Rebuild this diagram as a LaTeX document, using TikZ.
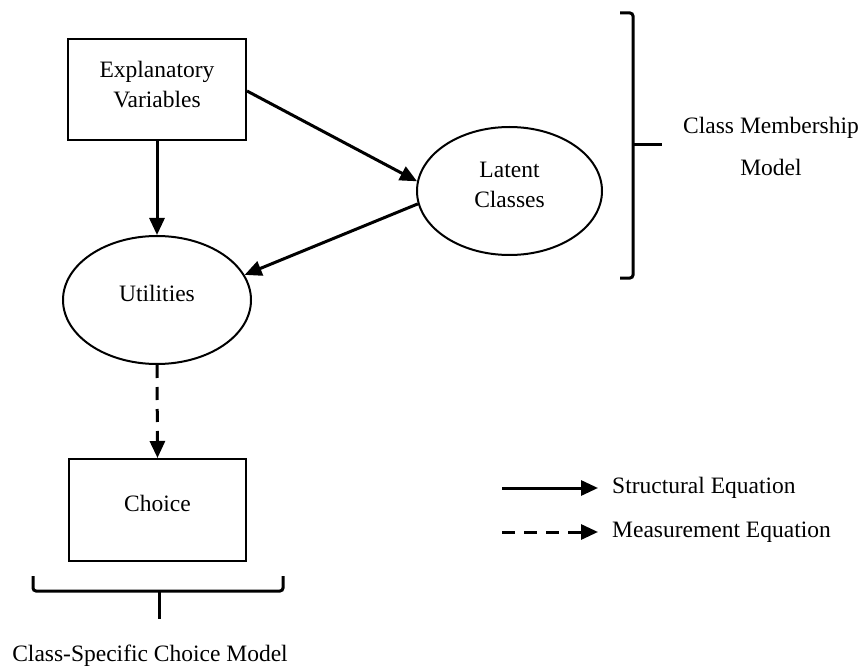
\documentclass[tikz,border=0pt]{standalone}
\usepackage{fontspec}
\setmainfont{Liberation Serif}
\usetikzlibrary{arrows.meta,shapes.geometric}
\tikzset{
  boxnode/.style={draw, line width=2pt, rectangle, inner sep=0pt, align=center},
  ellnode/.style={draw, line width=2pt, ellipse, inner sep=0pt, align=center},
  txt/.style={inner sep=0pt, align=center},
  conn/.style={line width=3pt, -{Triangle[length=17pt,width=15pt]}},
  dconn/.style={conn, dash pattern=on 13pt off 9pt},
  bracket/.style={line width=3pt, rounded corners=3pt}
}
\begin{document}
\begin{tikzpicture}[x=1pt,y=-1pt,font=\fontsize{23.5}{30}\selectfont]
\useasboundingbox (0,0) rectangle (865,671);
% nodes
\node[boxnode, minimum width=178pt, minimum height=101pt, text depth=10pt] (ev) at (157,89.5) {Explanatory\\Variables};
\node[ellnode, minimum width=185pt, minimum height=128pt, text depth=12pt] (lc) at (509.5,191) {Latent\\Classes};
\node[ellnode, minimum width=188pt, minimum height=128pt, text depth=14pt] (ut) at (157,300) {Utilities};
\node[boxnode, minimum width=177pt, minimum height=102pt, text depth=14pt] (ch) at (157.5,510) {Choice};
% connectors
\draw[conn] (ev.east) ++(0,1.5) coordinate (evr) (evr) -- (lc.174);
\draw[conn] (ev.south) -- (ut.north);
\draw[conn] (lc.188) -- (ut.16);
\draw[dconn] (ut.south) -- (ch.north);
% right bracket
\coordinate (rbt) at (620,13);
\coordinate (rbb) at (620,278);
\coordinate (rbm) at (633,145);
\coordinate (rbtip) at (662,145);
\draw[bracket] (rbt) -- (633,13) -- (633,278) -- (rbb);
\draw[line width=3pt] (rbm) -- (rbtip);
\node[txt] (cmm) at (771,146) {Class Membership\\[12pt]Model};
% bottom bracket
\coordinate (bbl) at (33,576);
\coordinate (bbr) at (283,576);
\coordinate (bbm) at (159,591);
\coordinate (bbtip) at (159,619);
\draw[bracket] (bbl) -- (33,591) -- (283,591) -- (bbr);
\draw[line width=3pt] (bbm) -- (bbtip);
\node[txt] (cscm) at (150,656) {Class-Specific Choice Model};
% legend
\coordinate (l1s) at (502,488);
\coordinate (l1e) at (598,488);
\coordinate (l2s) at (502,532);
\coordinate (l2e) at (598,532);
\draw[conn] (l1s) -- (l1e);
\draw[dconn] (l2s) -- (l2e);
\node[txt, anchor=west] (l1t) at (612,488) {Structural Equation};
\node[txt, anchor=west] (l2t) at (612,532) {Measurement Equation};
\end{tikzpicture}
\end{document}
